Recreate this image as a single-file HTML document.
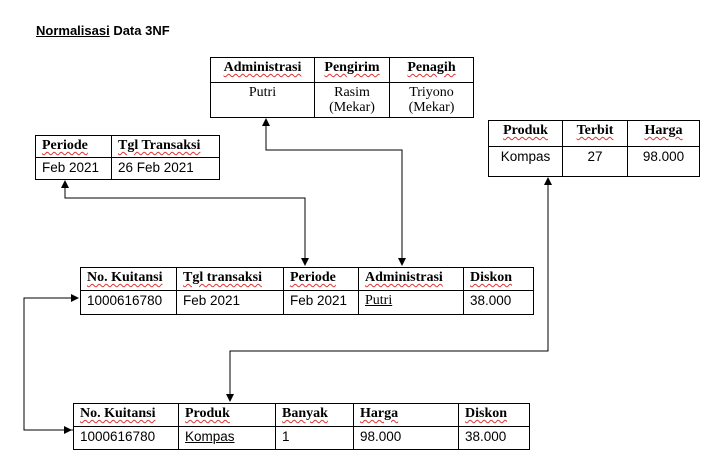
<!DOCTYPE html>
<html><head><style>
body{margin:0;width:713px;height:469px;background:#fff;position:relative;font-family:"Liberation Serif",serif;font-size:14px;color:#000;overflow:hidden}
.t{position:absolute;border-collapse:collapse}
.t td{border:1px solid #000;padding:2px 6px 0;white-space:nowrap;vertical-align:top}
.h td{font-weight:bold;text-decoration:underline wavy #d33 1px;text-underline-offset:2px}
.s{font-family:"Liberation Sans",sans-serif;font-size:13.5px}
.c td{text-align:center}
.title{position:absolute;left:36px;top:23px;font-family:"Liberation Sans",sans-serif;font-weight:bold;font-size:13px}
</style></head><body>
<div class="title"><u>Normalisasi</u> Data 3NF</div>

<table class="t c" style="left:210px;top:57px;width:264px">
<tr class="h" style="height:25px"><td style="width:91px">Administrasi</td><td style="width:62px">Pengirim</td><td>Penagih</td></tr>
<tr style="height:35px;line-height:15px"><td>Putri</td><td>Rasim<br>(Mekar)</td><td>Triyono<br>(Mekar)</td></tr>
</table>

<table class="t" style="left:35px;top:135px;width:185px">
<tr class="h" style="height:22px"><td style="width:63px">Periode</td><td>Tgl Transaksi</td></tr>
<tr style="height:22px" class="s"><td>Feb 2021</td><td>26 Feb 2021</td></tr>
</table>

<table class="t c" style="left:488px;top:120px;width:212px">
<tr class="h" style="height:26px"><td style="width:61px">Produk</td><td style="width:52px">Terbit</td><td>Harga</td></tr>
<tr style="height:30px" class="s"><td>Kompas</td><td>27</td><td>98.000</td></tr>
</table>

<table class="t" style="left:80px;top:267px;width:454px">
<tr class="h" style="height:23px"><td style="width:83px">No. Kuitansi</td><td style="width:94px">Tgl transaksi</td><td style="width:62px">Periode</td><td style="width:92px">Administrasi</td><td>Diskon</td></tr>
<tr style="height:24px" class="s"><td>1000616780</td><td>Feb 2021</td><td>Feb 2021</td><td style="font-family:'Liberation Serif',serif;font-size:14px"><u>Putri</u></td><td>38.000</td></tr>
</table>

<table class="t" style="left:73px;top:403px;width:457px">
<tr class="h" style="height:23px"><td style="width:92px">No. Kuitansi</td><td style="width:84px">Produk</td><td style="width:65px">Banyak</td><td style="width:92px">Harga</td><td>Diskon</td></tr>
<tr style="height:23px" class="s"><td>1000616780</td><td><u>Kompas</u></td><td>1</td><td>98.000</td><td>38.000</td></tr>
</table>

<svg width="713" height="469" style="position:absolute;left:0;top:0" fill="none" stroke="#000" stroke-width="1">
<defs><marker id="a" markerWidth="8" markerHeight="8" refX="7" refY="4" orient="auto" markerUnits="userSpaceOnUse"><path d="M0,0L8,4L0,8z" fill="#000" stroke="none"/></marker></defs>
<polyline points="402,265 402,150 266,150 266,119" marker-end="url(#a)"/>
<polyline points="305,265 305,198 65,198 65,181" marker-end="url(#a)"/>
<polyline points="230,401 230,351 548,351 548,178" marker-end="url(#a)"/>
<polyline points="73,430 24,430 24,298 78,298" marker-end="url(#a)"/>
<line x1="24" y1="430" x2="71" y2="430" marker-end="url(#a)"/>
<line x1="402" y1="200" x2="402" y2="265" marker-end="url(#a)"/>
<line x1="305" y1="220" x2="305" y2="265" marker-end="url(#a)"/>
<line x1="230" y1="370" x2="230" y2="401" marker-end="url(#a)"/>
</svg>
</body></html>
